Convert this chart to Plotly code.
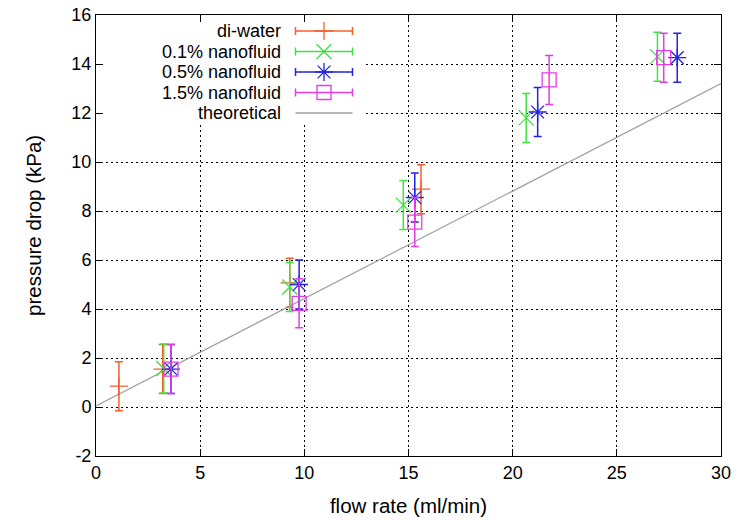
import plotly.graph_objects as go

# ---- data ----
flow_di = [1.1, 3.2, 9.3, 15.6]
dp_di = [0.85, 1.55, 5.07, 8.89]
err_di = [1.0, 1.0, 1.0, 1.0]

flow_01 = [3.25, 9.3, 14.75, 20.65, 26.95]
dp_01 = [1.57, 4.9, 8.24, 11.8, 14.3]
err_01 = [1.0, 1.0, 1.0, 1.0, 1.0]

flow_05 = [3.6, 9.75, 15.3, 21.2, 27.9]
dp_05 = [1.55, 5.0, 8.55, 12.04, 14.26]
err_05 = [1.0, 1.0, 1.0, 1.0, 1.0]

flow_15 = [3.6, 9.75, 15.3, 21.75, 27.25]
dp_15 = [1.55, 4.23, 7.55, 13.35, 14.26]
err_15 = [1.0, 1.0, 1.0, 1.0, 1.0]

theory_x = [0, 30]
theory_y = [0.04, 13.2]

x_ticks = [0, 5, 10, 15, 20, 25, 30]
x_labels = ["0", "5", "10", "15", "20", "25", "30"]
y_ticks = [-2, 0, 2, 4, 6, 8, 10, 12, 14, 16]
y_labels = ["-2", "0", "2", "4", "6", "8", "10", "12", "14", "16"]

names = ["di-water", "0.1% nanofluid", "0.5% nanofluid", "1.5% nanofluid", "theoretical"]
colors = ["#f4602a", "#3fe23f", "#2222e8", "#e63ae6", "#a0a0a0"]
symbols = ["cross-thin", "x-thin", "asterisk", "square-open"]
sizes = [13, 15, 15, 14]

series = [
    (flow_di, dp_di, err_di),
    (flow_01, dp_01, err_01),
    (flow_05, dp_05, err_05),
    (flow_15, dp_15, err_15),
]

FONT = "Liberation Sans, Arial, sans-serif"
TXT = 20.5
KEY = 18
TICK = 18

L, R, T, B = 96, 721, 15, 456
W, H = R - L, B - T

fig = go.Figure()

# theoretical line
fig.add_trace(go.Scatter(x=theory_x, y=theory_y, mode="lines",
                         line=dict(color=colors[4], width=1.2),
                         showlegend=False, hoverinfo="skip"))

for (fx, fy, fe), c, s, sz in zip(series, colors, symbols, sizes):
    fig.add_trace(go.Scatter(
        x=fx, y=fy, mode="markers",
        marker=dict(symbol=s, size=sz, color=c, line=dict(color=c, width=1.3)),
        error_y=dict(type="data", array=fe, visible=True, color=c, thickness=1.5, width=4),
        showlegend=False,
    ))

# ---- key (gnuplot style: text on left, sample on right), positions in screen px ----
row_px = [31, 51.5, 72, 92.5, 113]
text_right_px = 283
sample_c_px = 324
sample_half_px = 28.5

def px2x(p):
    return (p - L) / W

def px2y(p):
    return (B - p) / H

for i, name in enumerate(names):
    fig.add_annotation(x=px2x(text_right_px), y=px2y(row_px[i]), xref="paper", yref="paper",
                       text=name, showarrow=False, xanchor="right", yanchor="middle",
                       font=dict(family=FONT, size=KEY, color="black"))

for i in range(4):
    c = colors[i]
    fig.add_trace(go.Scatter(
        x=[px2x(sample_c_px)], y=[px2y(row_px[i])], xaxis="x2", yaxis="y2",
        mode="markers",
        marker=dict(symbol=symbols[i], size=sizes[i], color=c, line=dict(color=c, width=1.3)),
        error_x=dict(type="constant", value=sample_half_px / W, visible=True,
                     color=c, thickness=1.5, width=4),
        showlegend=False, hoverinfo="skip"))

fig.add_trace(go.Scatter(
    x=[px2x(sample_c_px - sample_half_px), px2x(sample_c_px + sample_half_px)],
    y=[px2y(row_px[4])] * 2, xaxis="x2", yaxis="y2", mode="lines",
    line=dict(color=colors[4], width=1.5), showlegend=False, hoverinfo="skip"))

# y-axis title placed like gnuplot's
fig.add_annotation(x=px2x(33), y=px2y(226), xref="paper", yref="paper",
                   text="pressure drop (kPa)", textangle=-90, showarrow=False,
                   xanchor="center", yanchor="middle",
                   font=dict(family=FONT, size=TXT, color="black"))

# blank the key area (over grid, under data)
key_x1 = (366 - L) / W * 30
key_y0 = 16 - (125 - T) / H * 18
fig.add_shape(type="rect", xref="x", yref="y", layer="between",
              x0=0.02, x1=key_x1, y0=key_y0, y1=15.97,
              fillcolor="white", line=dict(width=0))

axis_common = dict(showline=True, linecolor="black", linewidth=1, mirror="allticks",
                   ticks="inside", ticklen=7, tickcolor="black", tickwidth=1,
                   showgrid=True, gridcolor="black", griddash="2px,3px", gridwidth=1,
                   zeroline=False, automargin=False,
                   tickfont=dict(family=FONT, size=TICK, color="black"))

fig.update_layout(
    width=747, height=520,
    margin=dict(l=L, r=747 - R, t=T, b=520 - B, autoexpand=False),
    paper_bgcolor="white", plot_bgcolor="white",
    font=dict(family=FONT, size=TXT, color="black"),
    xaxis=dict(range=[0, 30], tickmode="array", tickvals=x_ticks, ticktext=x_labels,
               title=dict(text="flow rate (ml/min)", font=dict(family=FONT, size=TXT), standoff=17),
               **axis_common),
    yaxis=dict(range=[-2, 16], tickmode="array", tickvals=y_ticks, ticktext=y_labels,
               **axis_common),
    xaxis2=dict(range=[0, 1], overlaying="x", visible=False, fixedrange=True),
    yaxis2=dict(range=[0, 1], overlaying="y", visible=False, fixedrange=True),
    showlegend=False,
)

fig.write_html("out.html", config={"displayModeBar": False},
               post_script="document.body.style.margin='0';document.body.style.padding='0';")
